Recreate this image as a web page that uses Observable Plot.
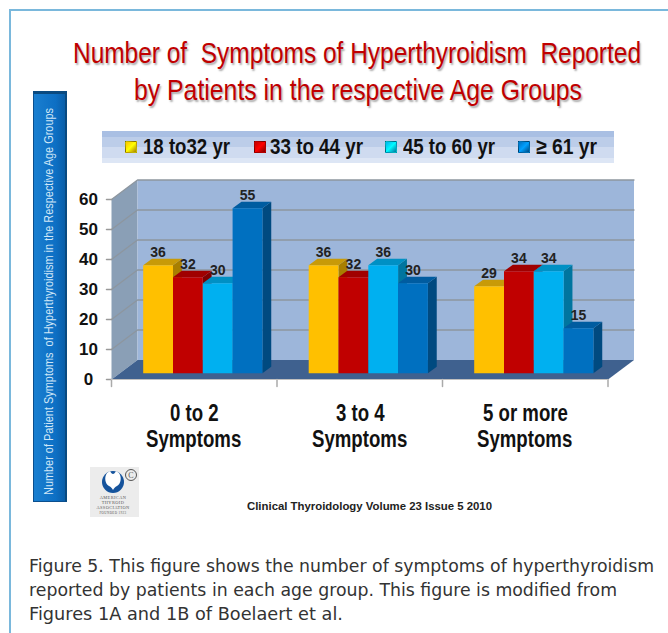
<!DOCTYPE html>
<html><head><meta charset="utf-8">
<script src="https://cdn.jsdelivr.net/npm/d3@7"></script>
<script src="https://cdn.jsdelivr.net/npm/@observablehq/plot@0.6"></script>
<style>
html,body{margin:0;background:#fff}
#page{position:relative;width:668px;height:633px;overflow:hidden;background:#fff;font-family:"Liberation Sans",Arial,sans-serif}
#page svg.plot{position:absolute;left:0;top:0}
.abs{position:absolute;white-space:pre;transform-origin:0 0;line-height:1}
.title{color:#c00000;font-size:30px;text-shadow:1.5px 1.5px 2px #aaa}
.leg{color:#111;font-size:22px;font-weight:bold}
.cap{color:#333;font-size:17px;font-family:"DejaVu Sans",sans-serif}
.cat{font-size:23px;font-weight:bold;color:#111}
#frameT{position:absolute;left:9px;top:9px;right:0;height:2px;background:#7ab8dc}
#frameL{position:absolute;left:9px;top:9px;bottom:0;width:2px;background:#7ab8dc}
#band{position:absolute;left:102px;top:131px;width:512px;height:32px;background:linear-gradient(#a9bfe3 0,#a9bfe3 20%,#bccde9 20%,#bccde9 50%,#cfdbf0 50%,#cfdbf0 85%,#dde6f5 85%)}
#sidebar{position:absolute;left:33px;top:91px;width:34px;height:411px;box-sizing:border-box;background:linear-gradient(90deg,#1a7fd0,#0d6fc4 70%,#0a5ea8);border:1px solid #0b4f8e;border-top:3px solid #0a4a80;border-right:2px solid #0a4a80}
.swatch{position:absolute;width:12px;height:12px;box-sizing:border-box;border:1px solid rgba(0,0,0,.25)}
#logo{position:absolute;left:90px;top:467px;width:49px;height:50px;background:#ececec}
</style></head><body>
<div id="page"></div>
<script>
const groups = ["0 to 2\nSymptoms", "3 to 4\nSymptoms", "5 or more\nSymptoms"];
const ageGroups = ["18 to32 yr", "33 to 44 yr", "45 to 60 yr", "≥ 61 yr"];
const age18to32 = [36, 36, 29];
const age33to44 = [32, 32, 34];
const age45to60 = [30, 36, 34];
const age61plus = [55, 30, 15];
const seriesValues = [age18to32, age33to44, age45to60, age61plus];
const frontColors = ["#ffc000", "#c00000", "#00b0f0", "#0070c0"];
const topColors = ["#c89a08", "#a00000", "#0090c4", "#005ca0"];
const sideColors = ["#a87f00", "#800000", "#00759f", "#004a80"];
const yTicks = [0, 10, 20, 30, 40, 50, 60];

const page = document.getElementById("page");
// projection of the chart's depth axis, in scale units
const perGroup = 165.5, perValue = 3;
const wallDx = 26 / perGroup, wallDy = 19.5 / perValue;
const barW = 29.8 / perGroup, d0 = 0.32, d1 = 0.66;
const lead = (31.7 - d0 * 26) / perGroup;
const px = (g, s, frac) => g + lead + (s + frac) * barW;

const bars = [];
groups.forEach((g, gi) => seriesValues.forEach((vals, si) => bars.push({g: gi, s: si, v: vals[gi]})));

function quad(id, fill, pts) { return pts.map(([x, y]) => ({id, fill, x, y})); }
const faces = [];
faces.push(...quad("left", "#8a9fb6", [[0,0],[wallDx,wallDy],[wallDx,60+wallDy],[0,60]]));
faces.push(...quad("back", "#9db6da", [[wallDx,wallDy],[3+wallDx,wallDy],[3+wallDx,60+wallDy],[wallDx,60+wallDy]]));
faces.push(...quad("floor", "#3f618f", [[0,0],[3,0],[3+wallDx,wallDy],[wallDx,wallDy]]));

const grid = [];
for (const t of yTicks.slice(1)) {
  grid.push({id:"g"+t,x:0,y:t},{id:"g"+t,x:wallDx,y:t+wallDy},{id:"g"+t,x:3+wallDx,y:t+wallDy});
}
const barFaces = [];
for (const b of bars) {
  const xa = px(b.g,b.s,0)+d0*wallDx, xb = px(b.g,b.s,1)+d0*wallDx;
  const ya = d0*wallDy, yt = b.v+d0*wallDy;
  const ddx=(d1-d0)*wallDx, ddy=(d1-d0)*wallDy;
  const k = `${b.g}-${b.s}`;
  barFaces.push(...quad(k+"s", sideColors[b.s], [[xb,ya],[xb+ddx,ya+ddy],[xb+ddx,yt+ddy],[xb,yt]]));
  barFaces.push(...quad(k+"t", topColors[b.s], [[xa,yt],[xb,yt],[xb+ddx,yt+ddy],[xa+ddx,yt+ddy]]));
  barFaces.push(...quad(k+"f", frontColors[b.s], [[xa,ya],[xb,ya],[xb,yt],[xa,yt]]));
}
const labels = bars.map(b => ({x: px(b.g,b.s,0.5)+d0*wallDx, y: b.v+d1*wallDy, t: String(b.v)}));
const narrow = '"Liberation Sans Narrow","Liberation Sans"';

const chart = Plot.plot({
  width: 668, height: 633, margin: 0,
  x: {type:"linear", domain:[0,3], range:[111,607.5], axis:null},
  y: {type:"linear", domain:[0,60], range:[379,199], axis:null},
  style: {background:"transparent"},
  marks: [
    Plot.line(faces, {x:"x", y:"y", z:"id", fill:"fill", stroke:null, curve:"linear-closed"}),
    Plot.line(grid, {x:"x", y:"y", z:"id", stroke:"#8d969f", strokeWidth:1.3}),
    Plot.line(yTicks.flatMap(t=>[{id:t,x:0,y:t},{id:t,x:-5/perGroup,y:t}]), {x:"x",y:"y",z:"id",stroke:"#999"}),
    Plot.line([0,1,2,3].flatMap(g=>[{id:g,x:g,y:0},{id:g,x:g,y:-7/perValue}]), {x:"x",y:"y",z:"id",stroke:"#aaa"}),
    Plot.line([{x:0,y:0},{x:3,y:0}], {x:"x",y:"y",stroke:"#c0c0c0",strokeWidth:1}),
    Plot.line(barFaces, {x:"x", y:"y", z:"id", fill:"fill", stroke:null, curve:"linear-closed"}),
    Plot.text(labels, {x:"x", y:"y", text:"t", dy:-6, fontSize:14, fontWeight:"bold", fill:"#222", fontFamily:narrow}),
    Plot.text(yTicks, {x:()=>0, y:d=>d, text:d=>String(d), dx:-23, textAnchor:"middle", fontSize:17, fontWeight:"bold", fill:"#111", fontFamily:narrow}),
  ]
});
chart.classList.add("plot");

function add(cls, text, left, top, width, extra) {
  const el = document.createElement("div");
  el.className = "abs " + cls;
  el.textContent = text;
  el.style.left = left + "px"; el.style.top = top + "px";
  if (extra) Object.assign(el.style, extra);
  page.appendChild(el);
  if (width) {
    const w = el.getBoundingClientRect().width;
    el.style.transform = `scaleX(${width / w})`;
  }
  return el;
}
page.insertAdjacentHTML("beforeend", '<div id="frameT"></div><div id="frameL"></div><div id="band"></div><div id="sidebar"></div>');
page.appendChild(chart);

add("title", "Number of  Symptoms of Hyperthyroidism  Reported", 73, 38, 568);
add("title", "by Patients in the respective Age Groups", 134, 75, 448);

const legendX = [125, 254, 385, 518];
const legendText = [143, 270, 403, 536];
const legendW = [87, 93, 92, 61];
ageGroups.forEach((a, i) => {
  const sw = document.createElement("div");
  sw.className = "swatch";
  sw.style.left = legendX[i] + "px"; sw.style.top = "141px";
  sw.style.background = `linear-gradient(135deg, ${frontColors[i]}, ${d3.color(frontColors[i]).brighter(1)} 50%, ${sideColors[i]})`;
  page.appendChild(sw);
  add("leg", a, legendText[i], 136, legendW[i]);
});

const yt = add("", "Number of Patient Symptoms  of Hyperthyroidism in the Respective Age Groups", 42, 495, 0,
  {color:"#cfe6f7", fontSize:"13px"});
const ytw = yt.getBoundingClientRect().width;
yt.style.transform = `rotate(-90deg) scaleX(${387 / ytw})`;

const catC = [194, 360, 525];
groups.forEach((g, i) => {
  g.split("\n").forEach((line, j) => {
    const el = add("cat", line, catC[i], 402 + j * 26, 0);
    const w = el.getBoundingClientRect().width;
    el.style.left = (catC[i] - w * 0.405) + "px";
    el.style.transform = "scaleX(0.81)";
  });
});

add("", "Clinical Thyroidology Volume 23 Issue 5 2010", 247, 501, 245, {fontSize:"11.5px", fontWeight:"bold", color:"#222"});

page.insertAdjacentHTML("beforeend", `<div id="logo">
<svg width="49" height="50" viewBox="0 0 49 50" style="position:absolute;left:0;top:0">
<circle cx="23" cy="15" r="11" fill="#15539c"/>
<path d="M20 4 C22 8 24 8 26 4 L29 6 C32 10 31 17 27 19 C25 20 24 21 23 23 C22 21 21 20 19 19 C15 17 14 10 17 6Z" fill="#fff"/>
<circle cx="41" cy="8" r="5.5" fill="none" stroke="#555" stroke-width="1"/>
<text x="41" y="11" font-size="8" text-anchor="middle" fill="#555" font-family="Liberation Serif">C</text>
<g font-family="Liberation Serif" font-size="4.4" fill="#555" text-anchor="middle" letter-spacing=".4">
<text x="23" y="31.5">AMERICAN</text><text x="23" y="36.5">THYROID</text><text x="23" y="41.5">ASSOCIATION</text><text x="23" y="47" font-size="3.2">FOUNDED 1923</text></g>
</svg></div>`);

add("cap", "Figure 5. This figure shows the number of symptoms of hyperthyroidism", 29, 558, 625);
add("cap", "reported by patients in each age group. This figure is modified from", 29, 582, 588);
add("cap", "Figures 1A and 1B of Boelaert et al.", 29, 606, 314);
</script>
</body></html>
